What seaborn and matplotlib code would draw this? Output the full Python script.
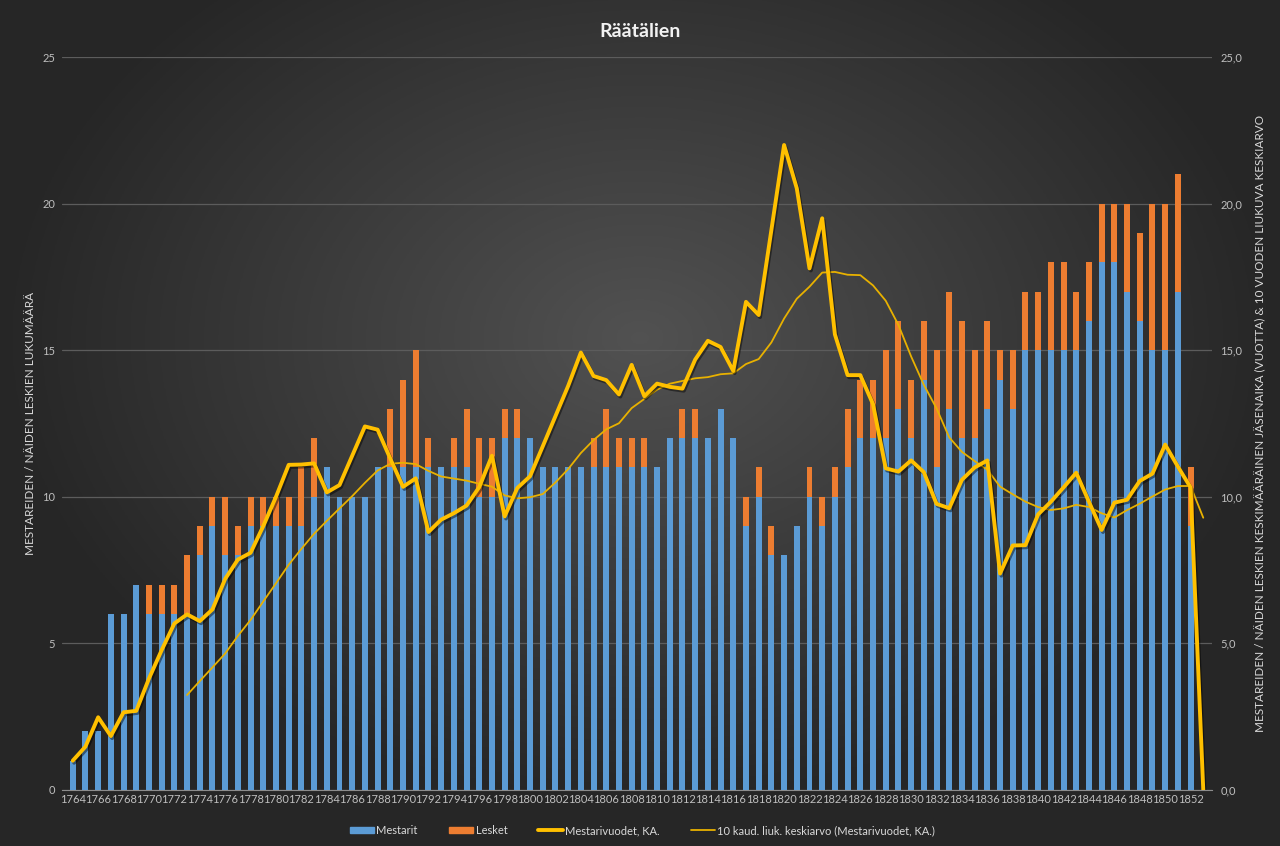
import numpy as np
import pandas as pd
import matplotlib
matplotlib.use("Agg")
import matplotlib.pyplot as plt
import matplotlib.patheffects as pe
from matplotlib.ticker import FuncFormatter, MultipleLocator
from matplotlib.patches import Patch
from matplotlib.lines import Line2D
import seaborn as sns

# years 1764-1853; the last year only carries the line (value 0)
years = list(range(1764, 1854))

masters = [1, 2, 2, 6, 6, 7, 6, 6, 6, 6,
           8, 9, 8, 8, 9, 9, 9, 9, 9, 10,
           11, 10, 10, 10, 11, 11, 11, 11, 11, 11,
           11, 11, 10, 10, 12, 12, 12, 11, 11, 11,
           11, 11, 11, 11, 11, 11, 11, 12, 12, 12,
           12, 13, 12, 9, 10, 8, 8, 9, 10, 9,
           10, 11, 12, 12, 12, 13, 12, 14, 11, 13,
           12, 12, 13, 14, 13, 15, 15, 15, 15, 15,
           16, 18, 18, 17, 16, 15, 15, 17, 9]
widows = [0, 0, 0, 0, 0, 0, 1, 1, 1, 2,
          1, 1, 2, 1, 1, 1, 1, 1, 2, 2,
          0, 0, 0, 0, 0, 2, 3, 4, 1, 0,
          1, 2, 2, 2, 1, 1, 0, 0, 0, 0,
          0, 1, 2, 1, 1, 1, 0, 0, 1, 1,
          0, 0, 0, 1, 1, 1, 0, 0, 1, 1,
          1, 2, 2, 2, 3, 3, 2, 2, 4, 4,
          4, 3, 3, 1, 2, 2, 2, 3, 3, 2,
          2, 2, 2, 3, 3, 5, 5, 4, 2]
member_years = [1.0, 1.48, 2.48, 1.84, 2.65, 2.7, 3.8, 4.77, 5.68, 5.99,
                5.76, 6.16, 7.2, 7.86, 8.09, 9.0, 10.0, 11.09, 11.1, 11.14,
                10.15, 10.4, 11.4, 12.4, 12.29, 11.3, 10.34, 10.63, 8.8, 9.22,
                9.44, 9.7, 10.33, 11.4, 9.33, 10.3, 10.7, 11.72, 12.75, 13.78,
                14.92, 14.12, 13.98, 13.49, 14.5, 13.43, 13.86, 13.75, 13.69, 14.68,
                15.32, 15.11, 14.29, 16.65, 16.2, 19.1, 22.0, 20.52, 17.79, 19.5,
                15.54, 14.15, 14.15, 13.16, 10.97, 10.86, 11.24, 10.84, 9.76, 9.61,
                10.58, 11.0, 11.24, 7.38, 8.34, 8.35, 9.4, 9.83, 10.32, 10.82,
                9.83, 8.87, 9.8, 9.9, 10.54, 10.79, 11.78, 11.03, 10.32, 0.0]

BLUE = "#5B9BD5"
ORANGE = "#ED7D31"
YELLOW = "#FFC000"
TXT = "#d9d9d9"

sns.set_style("dark")
plt.rcParams["font.family"] = ["Lato", "DejaVu Sans"]

fig = plt.figure(figsize=(12.8, 8.46), dpi=100)

# dark radial background
bg = fig.add_axes([0, 0, 1, 1], zorder=-10)
gx, gy = np.meshgrid(np.linspace(-1, 1, 400), np.linspace(-1, 1, 300))
r = np.sqrt((gx / 1.0) ** 2 + ((gy + 0.2) / 1.1) ** 2)
shade = np.clip(0.32 - 0.17 * r, 0.15, 0.32)
bg.imshow(np.dstack([shade] * 3), aspect="auto", extent=[0, 1, 0, 1])
bg.axis("off")

ax = fig.add_axes([0.0484, 0.0662, 0.8986, 0.8664])
ax.set_facecolor("none")

df = pd.DataFrame({"year": [str(y) for y in years[:len(masters)]],
                   "Mestarit": masters, "Lesket": widows})
df["total"] = df["Mestarit"] + df["Lesket"]
order = [str(y) for y in years]

sns.barplot(data=df, x="year", y="total", order=order, color=ORANGE,
            width=0.47, saturation=1, errorbar=None, ax=ax, zorder=2,
            edgecolor="none", linewidth=0)
sns.barplot(data=df, x="year", y="Mestarit", order=order, color=BLUE,
            width=0.47, saturation=1, errorbar=None, ax=ax, zorder=3,
            edgecolor="none", linewidth=0)

ax.set_ylim(0, 25)
ax.set_xlim(-0.85, 89.7)
ax.yaxis.set_major_locator(MultipleLocator(5))
ax.grid(axis="y", color="#5c5c5c", lw=0.9)
ax.grid(axis="x", visible=False)
ax.set_axisbelow(True)
ax.set_xticks(range(0, len(years), 2))
ax.set_xticklabels([str(y) for y in years[::2]])
ax.tick_params(axis="x", length=0, pad=3, labelsize=8, colors="#bfbfbf")
ax.tick_params(axis="y", length=0, pad=5, labelsize=8, colors="#bfbfbf")
ax.set_xlabel("")
ax.set_ylabel("MESTAREIDEN / NÄIDEN LESKIEN LUKUMÄÄRÄ", fontsize=8.5,
              color=TXT, labelpad=4)
for s in ["left", "right", "top"]:
    ax.spines[s].set_visible(False)
ax.spines["bottom"].set_color("#8c8c8c")

# lines on the secondary axis
ax2 = ax.twinx()
pos = np.arange(len(years))
ma = pd.Series(member_years).rolling(10).mean()
sns.lineplot(x=pos, y=ma, ax=ax2, color="#E8B100", lw=1.3, zorder=4)
sns.lineplot(x=pos, y=member_years, ax=ax2, color=YELLOW, lw=2.8, zorder=5,
             path_effects=[pe.SimpleLineShadow(offset=(1, -1.5), shadow_color="black", alpha=0.45),
                           pe.Normal()])
ax2.set_ylim(0, 25)
ax2.set_xlim(-0.85, 89.7)
ax2.yaxis.set_major_locator(MultipleLocator(5))
ax2.yaxis.set_major_formatter(FuncFormatter(lambda v, p: f"{v:.1f}".replace(".", ",")))
ax2.tick_params(axis="y", length=0, pad=6, labelsize=8, colors="#bfbfbf")
ax2.set_ylabel("MESTAREIDEN / NÄIDEN LESKIEN KESKIMÄÄRÄINEN JÄSENAIKA (VUOTTA) & 10 VUODEN LIUKUVA KESKIARVO",
               fontsize=8.5, color=TXT, labelpad=9)
ax2.grid(False)
for s in ax2.spines.values():
    s.set_visible(False)

fig.suptitle("Räätälien", y=0.973, fontsize=14, fontweight="bold", color="#f2f2f2")

handles = [Patch(color=BLUE), Patch(color=ORANGE),
           Line2D([], [], color=YELLOW, lw=2.8),
           Line2D([], [], color="#E8B100", lw=1.3)]
labels = ["Mestarit", "Lesket", "Mestarivuodet, KA.",
          "10 kaud. liuk. keskiarvo (Mestarivuodet, KA.)"]
leg = fig.legend(handles, labels, loc="lower center", bbox_to_anchor=(0.502, 0.0),
                 ncol=4, frameon=False, fontsize=8, handlelength=2.2,
                 handleheight=0.5, handletextpad=0.2, columnspacing=2.8)
for t in leg.get_texts():
    t.set_color(TXT)

fig.savefig("out.png", dpi=100)
